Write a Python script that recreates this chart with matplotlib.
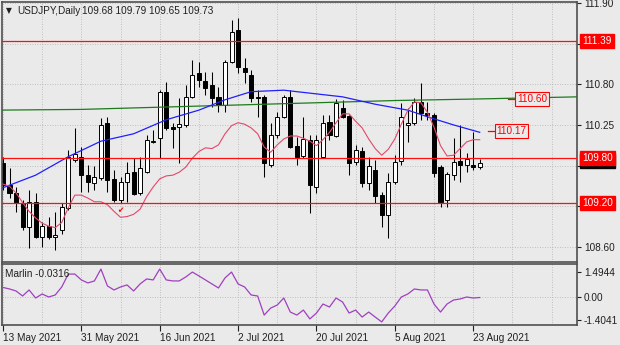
import matplotlib
matplotlib.use("Agg")
import matplotlib.pyplot as plt
import numpy as np
import pandas as pd

# ---- data -----------------------------------------------------------------
symbol = "USDJPY,Daily"
start_date, end_date = "2021-05-13", "2021-08-24"

opens = [109.74, 109.44, 109.33, 109.19, 108.87, 109.21, 108.73, 108.88, 108.73, 108.83,
         109.13, 109.78, 109.82, 109.57, 109.46, 109.53, 110.28, 109.52, 109.23, 109.48,
         109.61, 109.33, 109.61, 110.02, 110.07, 110.70, 110.22, 110.22, 110.25, 110.63,
         110.95, 110.84, 110.79, 110.63, 110.52, 111.10, 111.53, 111.02, 110.93, 110.63,
         110.63, 109.71, 110.11, 110.36, 110.63, 109.97, 109.83, 110.05, 109.41, 109.82,
         110.29, 110.10, 110.48, 110.37, 109.75, 109.90, 109.46, 109.64, 109.30, 109.03,
         109.48, 109.76, 110.25, 110.28, 110.56, 110.41, 110.38, 109.68, 109.23, 109.57,
         109.76, 109.71, 109.71, 109.68]
highs = [109.82, 109.67, 109.41, 109.23, 109.37, 109.33, 108.94, 109.00, 109.07, 109.19,
         109.91, 110.21, 109.95, 109.71, 109.69, 110.34, 110.36, 109.64, 109.55, 109.75,
         109.80, 109.82, 110.11, 110.18, 110.72, 110.83, 110.28, 110.61, 110.79, 111.13,
         111.10, 110.97, 110.97, 110.76, 111.13, 111.67, 111.70, 111.16, 110.99, 110.72,
         110.66, 110.28, 110.43, 110.66, 110.72, 110.09, 110.36, 110.11, 110.11, 110.38,
         110.38, 110.60, 110.59, 110.38, 109.98, 109.95, 109.82, 109.78, 109.34, 109.60,
         109.84, 110.55, 110.48, 110.61, 110.82, 110.56, 110.41, 109.71, 109.61, 110.07,
         110.25, 109.87, 110.15, 109.79]
lows = [109.37, 109.26, 109.07, 108.83, 108.58, 108.72, 108.60, 108.71, 108.56, 108.77,
        109.10, 109.75, 109.34, 109.34, 109.37, 109.50, 109.34, 109.21, 109.19, 109.21,
        109.30, 109.30, 109.60, 110.01, 109.80, 110.18, 109.94, 109.73, 110.22, 110.61,
        110.76, 110.65, 110.49, 110.42, 110.42, 111.09, 110.95, 110.82, 110.56, 110.36,
        109.55, 109.68, 110.07, 110.34, 109.94, 109.71, 109.80, 109.06, 109.33, 109.80,
        110.05, 110.09, 110.34, 109.57, 109.71, 109.41, 109.37, 109.19, 108.87, 108.72,
        109.45, 109.71, 110.02, 110.25, 110.32, 110.32, 109.55, 109.14, 109.14, 109.50,
        109.48, 109.61, 109.64, 109.65]
closes = [109.44, 109.33, 109.19, 108.87, 109.21, 108.73, 108.88, 108.73, 108.76, 109.14,
          109.82, 109.86, 109.57, 109.48, 109.55, 110.25, 109.50, 109.23, 109.48, 109.60,
          109.32, 109.67, 110.05, 110.03, 110.70, 110.21, 110.19, 110.26, 110.63, 110.93,
          110.86, 110.75, 110.61, 110.52, 111.10, 111.51, 111.03, 110.97, 110.61, 110.61,
          109.73, 110.11, 110.36, 110.63, 109.95, 109.82, 110.06, 109.44, 110.05, 110.28,
          110.11, 110.55, 110.36, 109.73, 109.91, 109.46, 109.69, 109.29, 109.03, 109.48,
          109.75, 110.36, 110.28, 110.56, 110.41, 110.38, 109.60, 109.21, 109.59, 109.75,
          109.71, 109.79, 109.68, 109.73]

# fast moving average (one value per bar)
fast_ma = [109.45, 109.42, 109.33, 109.20, 109.08, 108.99, 108.92, 108.88, 108.86, 108.93,
           109.13, 109.30, 109.30, 109.26, 109.21, 109.21, 109.17, 109.08, 109.00, 109.01,
           109.04, 109.11, 109.28, 109.41, 109.52, 109.56, 109.57, 109.61, 109.68, 109.80,
           109.89, 109.94, 109.93, 109.98, 110.13, 110.24, 110.28, 110.26, 110.21, 110.13,
           109.95, 109.88, 109.98, 110.06, 110.10, 110.10, 110.07, 110.03, 109.97, 110.05,
           110.15, 110.28, 110.40, 110.40, 110.30, 110.21, 110.06, 109.93, 109.84, 109.92,
           110.06, 110.26, 110.45, 110.56, 110.55, 110.42, 110.22, 109.97, 109.83, 109.84,
           109.93, 110.02, 110.05, 110.05]

# medium moving average, sampled at bar indices
mid_ma_idx = [0, 5, 10, 15, 20, 25, 30, 34, 38, 43, 47, 52, 57, 62, 65, 69, 73]
mid_ma_val = [109.40, 109.57, 109.82, 110.03, 110.13, 110.32, 110.45, 110.59, 110.70,
              110.72, 110.68, 110.63, 110.53, 110.45, 110.36, 110.25, 110.15]

# slow (forward-shifted) moving average
slow_ma_idx = [-1, 12, 24, 36, 48, 60, 72, 88]
slow_ma_val = [110.45, 110.46, 110.49, 110.52, 110.55, 110.58, 110.60, 110.63]

# Marlin oscillator
marlin = [0.57, 0.48, 0.36, 0.06, 0.42, -0.06, 0.18, 0.00, 0.12, 0.60,
          1.37, 1.37, 1.02, 0.84, 0.96, 1.67, 0.66, 0.42, 0.60, 0.72,
          0.36, 0.78, 1.08, 1.02, 1.67, 1.02, 0.96, 0.96, 1.20, 1.49,
          1.26, 1.02, 0.78, 0.54, 1.14, 1.49, 0.78, 0.60, 0.12, 0.06,
          -1.08, -0.66, -0.48, -0.06, -0.90, -1.08, -0.78, -1.31, -0.96, -0.42,
          -0.60, -0.06, -0.30, -0.96, -0.78, -1.20, -0.90, -1.20, -1.49, -0.96,
          -0.54, 0.00, 0.18, 0.48, 0.42, 0.42, -0.42, -0.90, -0.42, -0.18,
          -0.12, 0.00, -0.06, -0.0316]

levels = [111.39, 109.80, 109.20]          # horizontal lines
level_tags = [110.60, 110.17]              # price tags inside the chart
price_ticks = [108.60, 109.15, 109.70, 110.25, 110.80, 111.35, 111.90]
marlin_ticks = [-1.4041, 0.00, 1.4944]
date_labels = ["13 May 2021", "31 May 2021", "16 Jun 2021", "2 Jul 2021",
               "20 Jul 2021", "5 Aug 2021", "23 Aug 2021"]

# ---- styling --------------------------------------------------------------
BG = "#eaeaea"
FRAME = "#505050"
GRID = "#b0b0b0"
FONT = ["Liberation Sans", "DejaVu Sans"]
plt.rcParams["font.family"] = FONT
plt.rcParams["font.size"] = 7

dates = pd.bdate_range(start_date, end_date)
x = np.arange(len(dates))
o, h, l, c = map(np.asarray, (opens, highs, lows, closes))

W, H = 620, 345
fig = plt.figure(figsize=(W / 100, H / 100), dpi=100, facecolor=BG)
ax = fig.add_axes([2 / W, 1 - 262 / H, 575 / W, 260 / H], facecolor=BG)
ax2 = fig.add_axes([2 / W, 1 - 325 / H, 575 / W, 61 / H], facecolor=BG, sharex=ax)

xmin, xmax = -0.15, 87.9
ax.set_xlim(xmin, xmax)
ax.set_ylim(108.395, 111.9135)
ax2.set_ylim(-1.674, 1.972)

# grid
grid_x = np.arange(0, xmax, 6)
for a in (ax, ax2):
    for gx in grid_x:
        a.axvline(gx, color=GRID, lw=0.6, ls=(0, (1, 2)), zorder=0.5)
for py in price_ticks:
    ax.axhline(py, color=GRID, lw=0.6, ls=(0, (1, 2)), zorder=0.5)
ax2.axhline(0, color=GRID, lw=0.6, ls=(0, (1, 2)), zorder=0.5)

# candles
ax.vlines(x, l, h, color="black", lw=0.75, zorder=2)
bull = c >= o
body_lo = np.minimum(o, c)
body_h = np.maximum(np.abs(c - o), 0.004)
ax.bar(x, body_h, bottom=body_lo, width=0.62,
       color=np.where(bull, "white", "black"), edgecolor="black",
       linewidth=0.7, zorder=2.5)

# moving averages
ax.plot(slow_ma_idx, slow_ma_val, color="#1e7a1e", lw=0.9, zorder=3)
ax.plot(mid_ma_idx, mid_ma_val, color="#2020ff", lw=0.9, zorder=3)
ax.plot(x, fast_ma, color="#e4486a", lw=0.8, zorder=3)

# horizontal levels
for lv in levels:
    ax.axhline(lv, color="#ff1010", lw=0.9, zorder=4)

# marker under the swing low
ax.text(18, l[18] - 0.1, "\u2714", color="#ff0000", fontsize=5.5,
        ha="center", va="center", family="DejaVu Sans", zorder=5)

# price tags with a short leader
tag_pos = [78.4, 75.3]
for tv, tx in zip(level_tags, tag_pos):
    ax.plot([tx - 1.1, tx], [tv, tv], color="#ff0000", lw=0.9, zorder=5)
    ax.text(tx + 0.3, tv, f"{tv:.2f}", color="#ff0000", fontsize=7.2,
            ha="left", va="center", zorder=6,
            bbox=dict(boxstyle="square,pad=0.18", fc=BG, ec="#ff0000", lw=0.8))

# right-hand price axis
for a in (ax, ax2):
    a.yaxis.tick_right()
    a.tick_params(axis="y", direction="out", length=3, width=0.8,
                  colors="#202020", pad=2, labelsize=7.2)
    for s in a.spines.values():
        s.set_color(FRAME)
        s.set_linewidth(1.2)

# tick values sitting under a level box are covered by that box
covered = levels + [c[-1]]
ax.set_yticks(price_ticks)
ax.set_yticklabels(["" if min(abs(p - v) for v in covered) < 0.12 else f"{p:.2f}"
                    for p in price_ticks])
ax2.set_yticks(marlin_ticks)
ax2.set_yticklabels([f"{v:.4f}" if v != 0 else "0.00" for v in marlin_ticks])

ytr = ax.get_yaxis_transform()
ax.text(1.009, c[-1] + 0.03, f"{c[-1]:.2f}", transform=ytr, color="white",
        fontsize=7.2, ha="left", va="center", clip_on=False, zorder=9,
        bbox=dict(boxstyle="square,pad=0.2", fc="black", ec="black"))
for lv in levels:
    ax.text(1.009, lv, f"{lv:.2f}", transform=ytr, color="white",
            fontsize=7.2, ha="left", va="center", clip_on=False, zorder=10,
            bbox=dict(boxstyle="square,pad=0.2", fc="#ff0000", ec="#ff0000"))

# date axis
tick_pos = [dates.get_loc(pd.to_datetime(d, format="%d %b %Y")) for d in date_labels]
ax.tick_params(axis="x", which="both", length=0, labelbottom=False)
ax2.set_xticks(tick_pos)
ax2.set_xticklabels(date_labels)
ax2.tick_params(axis="x", direction="out", length=4, width=0.8,
                colors="#202020", pad=1.5, labelsize=7.2)
for lab in ax2.get_xticklabels():
    lab.set_ha("left")

# Marlin oscillator
ax2.plot(x, marlin, color="#a040c0", lw=0.9, zorder=3)
ax2.text(0.006, 0.83, f"Marlin {marlin[-1]:.4f}", transform=ax2.transAxes,
         fontsize=7.2, color="#202020", ha="left", va="center")

# header
ax.text(4 / 575, 1 - 8.5 / 260, "\u25bc", transform=ax.transAxes, fontsize=5.5,
        family="DejaVu Sans", color="#202020", ha="left", va="center")
ax.text(15 / 575, 1 - 8.5 / 260, symbol, transform=ax.transAxes, fontsize=7.2,
        color="#202020", ha="left", va="center")
ax.text(80 / 575, 1 - 8.5 / 260,
        " ".join(f"{v:.2f}" for v in (o[-1], h[-1], l[-1], c[-1])),
        transform=ax.transAxes, fontsize=7.2, color="#202020",
        ha="left", va="center")

fig.savefig("out.png", dpi=100, facecolor=BG)
